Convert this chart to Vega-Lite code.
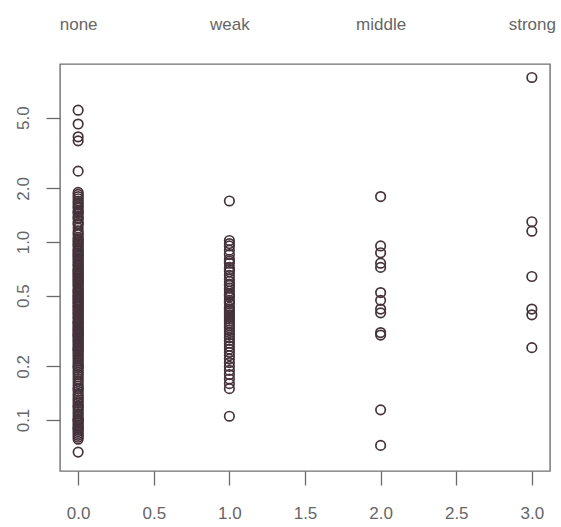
{
  "$schema": "https://vega.github.io/schema/vega-lite/v6.json",
  "width": 490,
  "height": 407,
  "autosize": "none",
  "padding": {"left": 60, "top": 64, "right": 11, "bottom": 56},
  "background": "white",
  "config": {
    "view": {"stroke": "#707070", "strokeWidth": 1.4},
    "font": "Liberation Sans",
    "axis": {
      "grid": false,
      "domain": false,
      "tickColor": "#6a6a6a",
      "tickWidth": 1.3,
      "labelColor": "#666666",
      "labelFont": "Liberation Sans",
      "labelFontSize": 17,
      "labelFlush": false,
      "labelOverlap": false,
      "title": null
    }
  },
  "layer": [
    {
      "data": {
        "values": [
          {"level": 0, "value": 5.5}, {"level": 0, "value": 4.6}, {"level": 0, "value": 3.9}, {"level": 0, "value": 3.7}, {"level": 0, "value": 2.5},
          {"level": 0, "value": 1.9}, {"level": 0, "value": 1.85}, {"level": 0, "value": 1.8}, {"level": 0, "value": 1.75}, {"level": 0, "value": 1.7},
          {"level": 0, "value": 1.66}, {"level": 0, "value": 1.62}, {"level": 0, "value": 1.58}, {"level": 0, "value": 1.55}, {"level": 0, "value": 1.5},
          {"level": 0, "value": 1.47}, {"level": 0, "value": 1.45}, {"level": 0, "value": 1.4}, {"level": 0, "value": 1.37},
          {"level": 0, "value": 1.35}, {"level": 0, "value": 1.3}, {"level": 0, "value": 1.27}, {"level": 0, "value": 1.25}, {"level": 0, "value": 1.2}, {"level": 0, "value": 1.15},
          {"level": 0, "value": 1.12}, {"level": 0, "value": 1.1}, {"level": 0, "value": 1.06}, {"level": 0, "value": 1.04}, {"level": 0, "value": 1.02}, {"level": 0, "value": 1.0}, {"level": 0, "value": 0.98},
          {"level": 0, "value": 0.96}, {"level": 0, "value": 0.95}, {"level": 0, "value": 0.92}, {"level": 0, "value": 0.9}, {"level": 0, "value": 0.89}, {"level": 0, "value": 0.87}, {"level": 0, "value": 0.86},
          {"level": 0, "value": 0.84}, {"level": 0, "value": 0.83}, {"level": 0, "value": 0.81}, {"level": 0, "value": 0.8}, {"level": 0, "value": 0.78}, {"level": 0, "value": 0.77}, {"level": 0, "value": 0.75}, {"level": 0, "value": 0.74}, {"level": 0, "value": 0.73},
          {"level": 0, "value": 0.71}, {"level": 0, "value": 0.7}, {"level": 0, "value": 0.69}, {"level": 0, "value": 0.68}, {"level": 0, "value": 0.67}, {"level": 0, "value": 0.66}, {"level": 0, "value": 0.65}, {"level": 0, "value": 0.64},
          {"level": 0, "value": 0.63}, {"level": 0, "value": 0.62}, {"level": 0, "value": 0.61}, {"level": 0, "value": 0.6}, {"level": 0, "value": 0.59}, {"level": 0, "value": 0.58}, {"level": 0, "value": 0.57}, {"level": 0, "value": 0.56}, {"level": 0, "value": 0.545},
          {"level": 0, "value": 0.535}, {"level": 0, "value": 0.53}, {"level": 0, "value": 0.52}, {"level": 0, "value": 0.515}, {"level": 0, "value": 0.5}, {"level": 0, "value": 0.5}, {"level": 0, "value": 0.49}, {"level": 0, "value": 0.485},
          {"level": 0, "value": 0.475}, {"level": 0, "value": 0.47}, {"level": 0, "value": 0.46}, {"level": 0, "value": 0.455}, {"level": 0, "value": 0.45}, {"level": 0, "value": 0.44}, {"level": 0, "value": 0.435}, {"level": 0, "value": 0.43},
          {"level": 0, "value": 0.42}, {"level": 0, "value": 0.415}, {"level": 0, "value": 0.41}, {"level": 0, "value": 0.4}, {"level": 0, "value": 0.395}, {"level": 0, "value": 0.39}, {"level": 0, "value": 0.38}, {"level": 0, "value": 0.375},
          {"level": 0, "value": 0.37}, {"level": 0, "value": 0.36}, {"level": 0, "value": 0.355}, {"level": 0, "value": 0.35}, {"level": 0, "value": 0.35}, {"level": 0, "value": 0.34}, {"level": 0, "value": 0.335},
          {"level": 0, "value": 0.33}, {"level": 0, "value": 0.325}, {"level": 0, "value": 0.32}, {"level": 0, "value": 0.315}, {"level": 0, "value": 0.31}, {"level": 0, "value": 0.305}, {"level": 0, "value": 0.3}, {"level": 0, "value": 0.3},
          {"level": 0, "value": 0.295}, {"level": 0, "value": 0.29}, {"level": 0, "value": 0.285}, {"level": 0, "value": 0.28}, {"level": 0, "value": 0.275}, {"level": 0, "value": 0.27}, {"level": 0, "value": 0.265}, {"level": 0, "value": 0.26}, {"level": 0, "value": 0.255}, {"level": 0, "value": 0.25},
          {"level": 0, "value": 0.25}, {"level": 0, "value": 0.245}, {"level": 0, "value": 0.24}, {"level": 0, "value": 0.235}, {"level": 0, "value": 0.23}, {"level": 0, "value": 0.225},
          {"level": 0, "value": 0.22}, {"level": 0, "value": 0.215}, {"level": 0, "value": 0.21}, {"level": 0, "value": 0.205}, {"level": 0, "value": 0.2}, {"level": 0, "value": 0.2},
          {"level": 0, "value": 0.195}, {"level": 0, "value": 0.19}, {"level": 0, "value": 0.185}, {"level": 0, "value": 0.18}, {"level": 0, "value": 0.175},
          {"level": 0, "value": 0.17}, {"level": 0, "value": 0.165}, {"level": 0, "value": 0.16}, {"level": 0, "value": 0.155}, {"level": 0, "value": 0.15},
          {"level": 0, "value": 0.15}, {"level": 0, "value": 0.145}, {"level": 0, "value": 0.14}, {"level": 0, "value": 0.137}, {"level": 0, "value": 0.133},
          {"level": 0, "value": 0.13}, {"level": 0, "value": 0.127}, {"level": 0, "value": 0.124}, {"level": 0, "value": 0.12}, {"level": 0, "value": 0.12},
          {"level": 0, "value": 0.117}, {"level": 0, "value": 0.114}, {"level": 0, "value": 0.111}, {"level": 0, "value": 0.108}, {"level": 0, "value": 0.105},
          {"level": 0, "value": 0.102}, {"level": 0, "value": 0.1}, {"level": 0, "value": 0.1}, {"level": 0, "value": 0.098}, {"level": 0, "value": 0.096},
          {"level": 0, "value": 0.094}, {"level": 0, "value": 0.092}, {"level": 0, "value": 0.09}, {"level": 0, "value": 0.09}, {"level": 0, "value": 0.088},
          {"level": 0, "value": 0.086}, {"level": 0, "value": 0.084}, {"level": 0, "value": 0.082}, {"level": 0, "value": 0.08}, {"level": 0, "value": 0.078},
          {"level": 0, "value": 0.066},
          {"level": 1, "value": 1.7}, {"level": 1, "value": 1.02}, {"level": 1, "value": 0.98}, {"level": 1, "value": 0.95}, {"level": 1, "value": 0.9}, {"level": 1, "value": 0.85},
          {"level": 1, "value": 0.8}, {"level": 1, "value": 0.78}, {"level": 1, "value": 0.76}, {"level": 1, "value": 0.72}, {"level": 1, "value": 0.7}, {"level": 1, "value": 0.68}, {"level": 1, "value": 0.65},
          {"level": 1, "value": 0.62}, {"level": 1, "value": 0.6}, {"level": 1, "value": 0.58}, {"level": 1, "value": 0.57}, {"level": 1, "value": 0.55}, {"level": 1, "value": 0.53},
          {"level": 1, "value": 0.51}, {"level": 1, "value": 0.5}, {"level": 1, "value": 0.49}, {"level": 1, "value": 0.47}, {"level": 1, "value": 0.46}, {"level": 1, "value": 0.45}, {"level": 1, "value": 0.43},
          {"level": 1, "value": 0.42}, {"level": 1, "value": 0.41}, {"level": 1, "value": 0.4}, {"level": 1, "value": 0.39}, {"level": 1, "value": 0.38}, {"level": 1, "value": 0.37}, {"level": 1, "value": 0.36},
          {"level": 1, "value": 0.35}, {"level": 1, "value": 0.34}, {"level": 1, "value": 0.33}, {"level": 1, "value": 0.32}, {"level": 1, "value": 0.31},
          {"level": 1, "value": 0.3}, {"level": 1, "value": 0.29}, {"level": 1, "value": 0.28}, {"level": 1, "value": 0.27}, {"level": 1, "value": 0.26},
          {"level": 1, "value": 0.25}, {"level": 1, "value": 0.24}, {"level": 1, "value": 0.23}, {"level": 1, "value": 0.22}, {"level": 1, "value": 0.21},
          {"level": 1, "value": 0.2}, {"level": 1, "value": 0.19}, {"level": 1, "value": 0.18}, {"level": 1, "value": 0.17}, {"level": 1, "value": 0.16},
          {"level": 1, "value": 0.15}, {"level": 1, "value": 0.105},
          {"level": 2, "value": 1.8}, {"level": 2, "value": 0.95}, {"level": 2, "value": 0.87}, {"level": 2, "value": 0.76}, {"level": 2, "value": 0.72},
          {"level": 2, "value": 0.52}, {"level": 2, "value": 0.47}, {"level": 2, "value": 0.42}, {"level": 2, "value": 0.4}, {"level": 2, "value": 0.31},
          {"level": 2, "value": 0.3}, {"level": 2, "value": 0.114}, {"level": 2, "value": 0.072},
          {"level": 3, "value": 8.4}, {"level": 3, "value": 1.3}, {"level": 3, "value": 1.15}, {"level": 3, "value": 0.64}, {"level": 3, "value": 0.42},
          {"level": 3, "value": 0.39}, {"level": 3, "value": 0.255}
        ]
      },
      "mark": {"type": "point", "shape": "circle", "filled": false, "size": 90, "strokeWidth": 1.7, "color": "#45323a", "opacity": 1},
      "encoding": {
        "x": {
          "field": "level",
          "type": "quantitative",
          "scale": {"domain": [-0.12, 3.12], "nice": false, "zero": false},
          "axis": {"orient": "bottom", "values": [0, 0.5, 1, 1.5, 2, 2.5, 3], "format": ".1f", "tickSize": 14, "labelPadding": 20}
        },
        "y": {
          "field": "value",
          "type": "quantitative",
          "scale": {"type": "log", "domain": [0.0517, 10], "nice": false},
          "axis": {"values": [0.1, 0.2, 0.5, 1, 2, 5], "format": ".1f", "labelAngle": -90, "tickSize": 14, "labelPadding": 14}
        }
      }
    },
    {
      "data": {
        "values": [
          {"level": 0, "name": "none"}, {"level": 1, "name": "weak"}, {"level": 2, "name": "middle"}, {"level": 3, "name": "strong"}
        ]
      },
      "mark": {"type": "point", "opacity": 0},
      "encoding": {
        "x": {
          "field": "level",
          "type": "quantitative",
          "scale": {"domain": [-0.12, 3.12], "nice": false, "zero": false},
          "axis": {
            "orient": "top",
            "values": [0, 1, 2, 3],
            "labelExpr": "datum.value == 0 ? 'none' : datum.value == 1 ? 'weak' : datum.value == 2 ? 'middle' : 'strong'",
            "ticks": false,
            "labelPadding": 31
          }
        }
      }
    }
  ],
  "resolve": {"axis": {"x": "independent"}}
}
